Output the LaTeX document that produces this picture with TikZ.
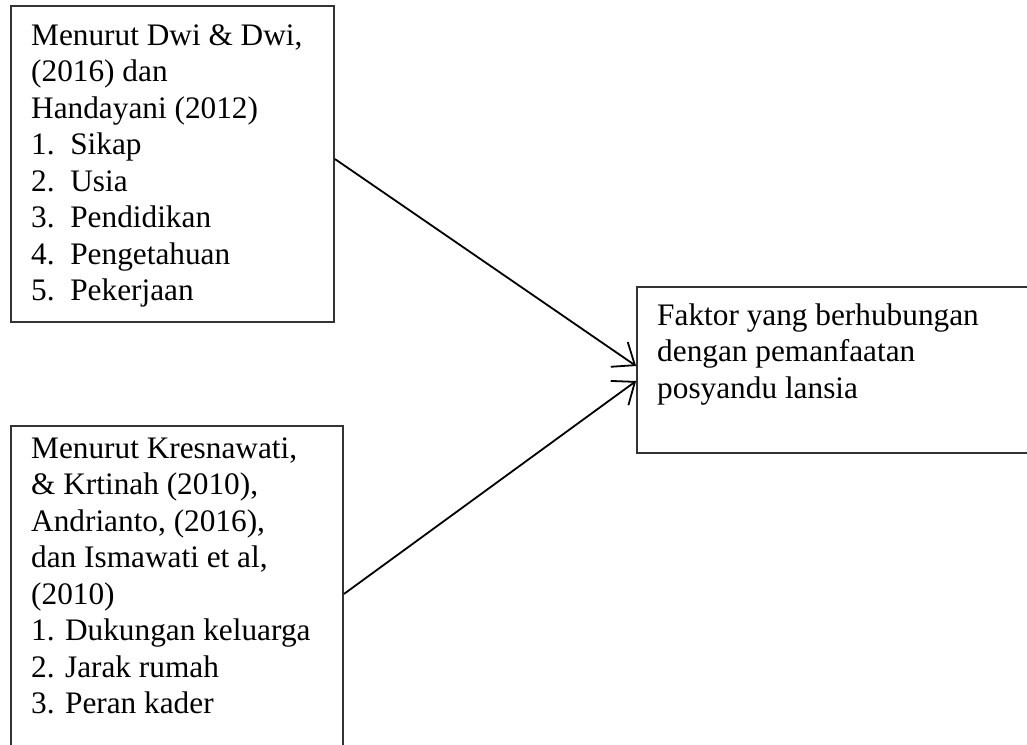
\documentclass[tikz,border=0pt]{standalone}
\usepackage{fontspec}
\setmainfont{Liberation Serif}
\usetikzlibrary{arrows.meta}
\tikzset{
  boxnode/.style={draw=black!80, line width=1.8pt, rectangle, inner sep=0pt},
  txtnode/.style={anchor=base west, inner sep=0pt, font=\fontsize{31.3}{36.5}\selectfont},
  conn/.style={line width=1.8pt, -{Straight Barb[length=19pt, width=30pt, line width=1.8pt]}}
}
\begin{document}
\begin{tikzpicture}[x=1pt, y=-1pt]
\clip (0,0) rectangle (1027,744);
\fill[white] (0,0) rectangle (1027,744);
% boxes
\node[boxnode, minimum width=323pt, minimum height=316pt] (b1) at (172.5,164) {};
\node[boxnode, minimum width=332pt, minimum height=336pt] (b2) at (177,594) {};
\node[boxnode, minimum width=403pt, minimum height=166pt] (b3) at (838.5,370) {};
% texts
\node[txtnode] (t1) at (31,45) {\parbox[t]{300pt}{\raggedright
Menurut Dwi \& Dwi,\\
(2016) dan\\
Handayani (2012)\\
1.\ \ Sikap\\
2.\ \ Usia\\
3.\ \ Pendidikan\\
4.\ \ Pengetahuan\\
5.\ \ Pekerjaan}};
\node[txtnode] (t2) at (31,458.3) {\parbox[t]{310pt}{\raggedright
Menurut Kresnawati,\\
\& Krtinah (2010),\\
Andrianto, (2016),\\
dan Ismawati et al,\\
(2010)\\
1. Dukungan keluarga\\
2. Jarak rumah\\
3. Peran kader}};
\node[txtnode] (t3) at (657,325) {\parbox[t]{360pt}{\raggedright
Faktor yang berhubungan\\
dengan pemanfaatan\\
posyandu lansia}};
% connectors
\draw[conn] ([yshift=5pt]b1.east) -- ([yshift=4pt]b3.west);
\draw[conn] (b2.east) -- ([yshift=-11pt]b3.west);
\end{tikzpicture}
\end{document}
